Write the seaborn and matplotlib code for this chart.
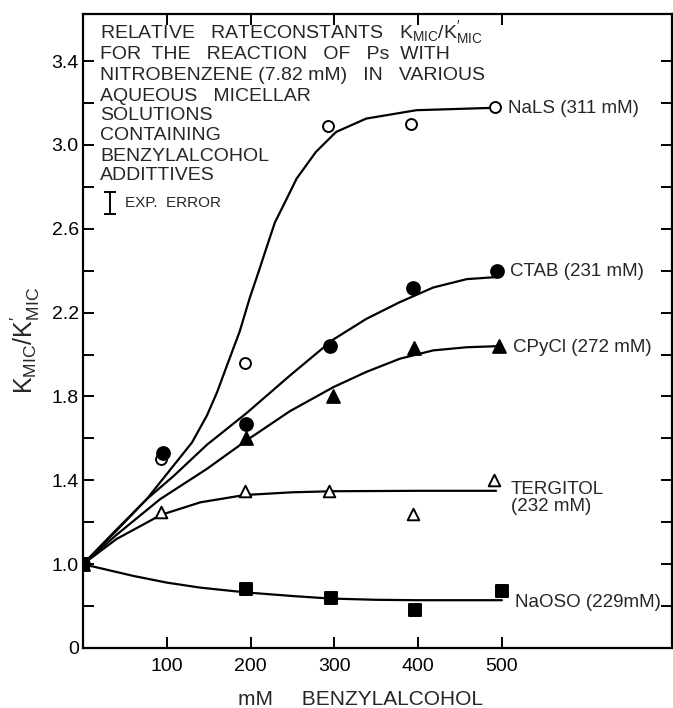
import matplotlib
matplotlib.use("Agg")
import matplotlib.pyplot as plt
import seaborn as sns

# ---- measured data points ----
nals_x = [0, 93, 193, 293, 392, 492]
nals_y = [1.0, 1.50, 1.96, 3.09, 3.10, 3.18]
ctab_x = [0, 96, 195, 295, 394, 494]
ctab_y = [1.0, 1.53, 1.67, 2.04, 2.32, 2.40]
cpycl_x = [0, 195, 298, 395, 497]
cpycl_y = [1.0, 1.60, 1.80, 2.03, 2.04]
terg_x = [0, 93, 193, 294, 394, 490]
terg_y = [1.0, 1.25, 1.35, 1.35, 1.24, 1.40]
naoso_x = [0, 195, 296, 396, 500]
naoso_y = [1.0, 0.88, 0.84, 0.78, 0.87]

# ---- hand-drawn fitted curves ----
nals_fit_x = [0, 40, 76, 108, 130, 148, 160, 172, 187, 199, 210, 219, 229, 239, 255, 278, 302, 338, 398, 487]
nals_fit_y = [1.0, 1.165, 1.31, 1.47, 1.58, 1.71, 1.82, 1.95, 2.11, 2.27, 2.40, 2.51, 2.63, 2.71, 2.84,
              2.967, 3.062, 3.126, 3.166, 3.177]
ctab_fit_x = [0, 40, 76, 108, 148, 195, 247, 298, 338, 378, 418, 458, 494]
ctab_fit_y = [1.0, 1.16, 1.31, 1.42, 1.57, 1.72, 1.90, 2.07, 2.17, 2.25, 2.32, 2.36, 2.37]
cpycl_fit_x = [0, 40, 92, 148, 195, 247, 299, 338, 378, 418, 458, 494]
cpycl_fit_y = [1.0, 1.14, 1.31, 1.455, 1.59, 1.73, 1.845, 1.917, 1.98, 2.02, 2.035, 2.04]
terg_fit_x = [0, 40, 93, 140, 193, 250, 299, 400, 493]
terg_fit_y = [1.0, 1.12, 1.235, 1.295, 1.33, 1.343, 1.348, 1.35, 1.35]
naoso_fit_x = [0, 60, 100, 140, 195, 250, 295, 350, 400, 500]
naoso_fit_y = [1.0, 0.944, 0.912, 0.888, 0.865, 0.848, 0.836, 0.830, 0.828, 0.828]

x_ticks = [100, 200, 300, 400, 500]
x_tick_labels = ["100", "200", "300", "400", "500"]
y_ticks = [0.6, 1.0, 1.4, 1.8, 2.2, 2.6, 3.0, 3.4]
y_tick_labels = ["0", "1.0", "1.4", "1.8", "2.2", "2.6", "3.0", "3.4"]
y_minor = [0.8, 1.2, 1.6, 2.0, 2.4, 2.8, 3.2]

series_labels = ["NaLS (311 mM)", "CTAB (231 mM)", "CPyCl (272 mM)", "TERGITOL\n(232 mM)", "NaOSO (229mM)"]

title_lines = [
    r"RELATIVE   RATECONSTANTS   K$_{\mathregular{MIC}}$/K$^{\prime}_{\mathregular{MIC}}$",
    "FOR  THE   REACTION   OF   Ps  WITH",
    "NITROBENZENE (7.82 mM)   IN   VARIOUS",
    "AQUEOUS   MICELLAR",
    "SOLUTIONS",
    "CONTAINING",
    "BENZYLALCOHOL",
    "ADDITTIVES",
]
title_y_px = [35, 57, 78, 99, 118, 138, 158, 177]

sns.set_style("ticks")
plt.rcParams["font.family"] = ["Liberation Sans", "DejaVu Sans"]
plt.rcParams["mathtext.fontset"] = "custom"
plt.rcParams["mathtext.rm"] = "Liberation Sans"
plt.rcParams["mathtext.it"] = "Liberation Sans"
plt.rcParams["mathtext.bf"] = "Liberation Sans:bold"

fig = plt.figure(figsize=(6.73, 7.08), dpi=100)
ax = fig.add_axes([83 / 673, 1 - 648 / 708, (672 - 83) / 673, (648 - 14) / 708])

lw = 1.6
for fx, fy in [(nals_fit_x, nals_fit_y), (ctab_fit_x, ctab_fit_y), (cpycl_fit_x, cpycl_fit_y),
               (terg_fit_x, terg_fit_y), (naoso_fit_x, naoso_fit_y)]:
    sns.lineplot(x=fx, y=fy, sort=False, estimator=None, color="black", lw=lw, ax=ax, zorder=2)

mk = dict(edgecolor="black", linewidth=1.4, zorder=3, ax=ax, legend=False)
sns.scatterplot(x=nals_x, y=nals_y, marker="o", s=62, color="white", **mk)
sns.scatterplot(x=ctab_x, y=ctab_y, marker="o", s=85, color="black", **mk)
sns.scatterplot(x=cpycl_x, y=cpycl_y, marker="^", s=85, color="black", **mk)
sns.scatterplot(x=terg_x, y=terg_y, marker="^", s=70, color="white", **mk)
sns.scatterplot(x=naoso_x, y=naoso_y, marker="s", s=72, color="black", **mk)

ax.set_xlim(0, 703)
ax.set_ylim(0.6, 3.625)
ax.set_xticks(x_ticks)
ax.set_xticklabels(x_tick_labels)
ax.set_yticks(y_ticks)
ax.set_yticklabels(y_tick_labels)
ax.set_yticks(y_minor, minor=True)
ax.tick_params(axis="both", which="both", direction="in", length=8, width=1.4,
               top=True, right=True, labelsize=14, colors="black")
ax.tick_params(axis="x", which="major", pad=7)
ax.tick_params(axis="y", which="both", pad=3)
for sp in ax.spines.values():
    sp.set_linewidth(1.6)
    sp.set_color("black")
    sp.set_visible(True)

ax.set_xlabel("")
fig.text(360 / 673, 1 - 705 / 708, "mM     BENZYLALCOHOL", fontsize=15, ha="center", va="baseline")
ax.set_ylabel(r"K$_{\mathregular{MIC}}$/K$^{\prime}_{\mathregular{MIC}}$", fontsize=18)
ax.yaxis.set_label_coords((42 - 83) / 589, (648 - 341) / 634)


def px2y(py):
    return 1.0 + (565 - py) / 209.0


def px2x(px):
    return (px - 83) / 0.838


for line, ypx in zip(title_lines, title_y_px):
    ax.text(px2x(100), px2y(ypx), line, fontsize=14, va="center", ha="left")

# experimental error bar symbol
ax.errorbar([px2x(110)], [px2y(205)], yerr=[[0.052], [0.052]], fmt="none",
            ecolor="black", elinewidth=1.4, capsize=4, capthick=1.4)
ax.text(px2x(125), px2y(205), "EXP.  ERROR", fontsize=11, va="center", ha="left")

lab_pos = [(508, 111), (510, 273), (513, 349), (511, 499), (515, 603)]
for (lx, ly), lab in zip(lab_pos, series_labels):
    ax.text(px2x(lx), px2y(ly), lab, fontsize=13.5, va="center", ha="left", linespacing=0.95)

fig.savefig("out.png", dpi=100)
